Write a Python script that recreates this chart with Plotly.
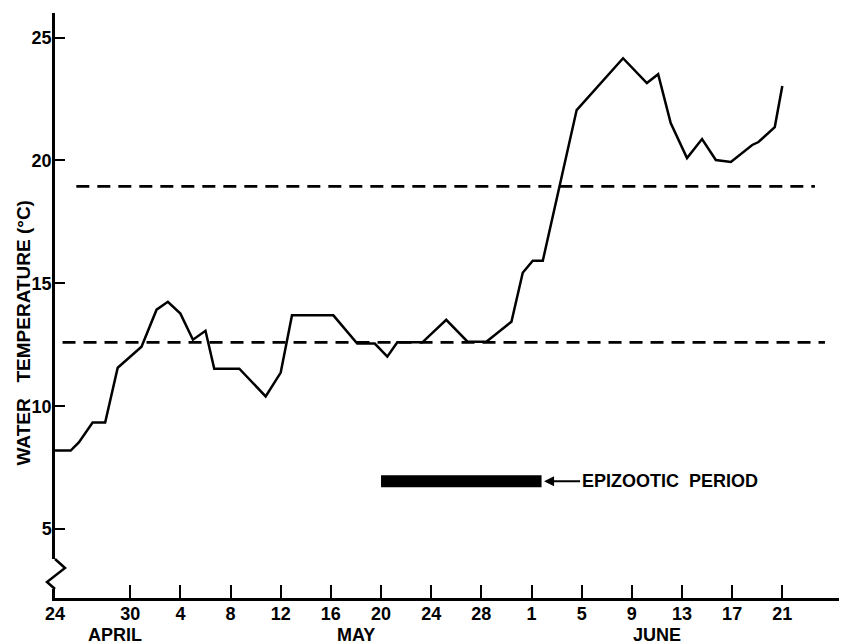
import plotly.graph_objects as go

# Days counted from April 24
day = [0, 1.25, 1.9, 3.0, 4.0, 5.0, 6.9, 8.1, 9.0, 10.0, 11.0, 12.0, 12.7, 14.7,
       16.8, 18.0, 18.9, 22.2, 24.1, 25.5, 26.5, 27.3, 29.3, 31.2, 32.9, 34.4,
       36.4, 37.3, 38.1, 38.9, 41.6, 45.3, 47.2, 48.1, 49.1, 50.4, 51.6, 52.7,
       53.9, 55.6, 56.1, 57.4, 58.0]
water_temp = [8.2, 8.2, 8.53, 9.34, 9.34, 11.57, 12.42, 13.93, 14.25, 13.77, 12.71,
              13.07, 11.53, 11.53, 10.40, 11.37, 13.7, 13.7, 12.55, 12.55, 12.02,
              12.6, 12.6, 13.52, 12.63, 12.63, 13.44, 15.43, 15.92, 15.92, 22.05,
              24.16, 23.15, 23.51, 21.52, 20.10, 20.87, 20.02, 19.94, 20.63, 20.75,
              21.36, 23.03]

upper_line_x = [1.7, 60.6]
upper_line_y = [18.95, 18.95]
lower_line_x = [0.6, 61.4]
lower_line_y = [12.6, 12.6]

epizootic_x = [26.0, 38.8]
epizootic_y = [6.95, 6.95]

tick_days = [0, 6, 10, 14, 18, 22, 26, 30, 34, 38, 42, 46, 50, 54, 58]
tick_labels = ["24", "30", "4", "8", "12", "16", "20", "24", "28", "1", "5", "9", "13", "17", "21"]
month_names = ["APRIL", "MAY", "JUNE"]
month_pos = [4.8, 24.0, 48.0]
y_ticks = [5, 10, 15, 20, 25]

FONT = "Liberation Sans"
Y_MIN, Y_MAX = 2.2, 26.0


def f(size):
    return dict(family=FONT, size=size, color="black", weight="bold")


fig = go.Figure()
fig.add_trace(go.Scatter(x=upper_line_x, y=upper_line_y, mode="lines",
                         line=dict(color="black", width=2.8, dash="13px,8px")))
fig.add_trace(go.Scatter(x=lower_line_x, y=lower_line_y, mode="lines",
                         line=dict(color="black", width=2.8, dash="13px,8px")))
fig.add_trace(go.Scatter(x=day, y=water_temp, mode="lines",
                         line=dict(color="black", width=2.5)))
fig.add_trace(go.Scatter(x=epizootic_x, y=epizootic_y, mode="lines",
                         line=dict(color="black", width=12)))

# arrow + label for epizootic period
fig.add_annotation(x=epizootic_x[1] + 0.2, y=epizootic_y[0], xref="x", yref="y",
                   text="EPIZOOTIC\u00a0 PERIOD", showarrow=True, ax=36, ay=0,
                   xanchor="left", arrowhead=2, arrowsize=1, arrowwidth=2,
                   arrowcolor="black", font=f(18))

# month labels
for name, pos in zip(month_names, month_pos):
    fig.add_annotation(x=pos, y=0, xref="x", yref="paper", text=name,
                       showarrow=False, yanchor="middle", yshift=-37,
                       font=f(18))

# y axis title
fig.add_annotation(x=0, y=13.0, xref="paper", yref="y",
                   text="WATER\u00a0\u00a0\u00a0TEMPERATURE (°C)", showarrow=False,
                   textangle=-90, xanchor="center", yanchor="middle",
                   xshift=-31, font=f(19))

# axis break on y axis
fig.add_shape(type="rect", xref="paper", yref="paper", xsizemode="pixel", ysizemode="pixel",
              xanchor=0, yanchor=0, x0=-5, x1=5, y0=9, y1=39,
              fillcolor="white", line=dict(width=0), layer="above")
fig.add_shape(type="path", xref="paper", yref="paper", xsizemode="pixel", ysizemode="pixel",
              xanchor=0, yanchor=0, path="M0,39 L10,30 L-8,16 L0,9",
              line=dict(color="black", width=2.5), layer="above")

fig.update_layout(
    width=839, height=636,
    margin=dict(l=47, r=2, t=5, b=46),
    plot_bgcolor="white", paper_bgcolor="white",
    showlegend=False,
    font=f(18),
)
fig.update_xaxes(range=[0, 63], tickvals=tick_days, ticktext=tick_labels,
                 ticks="inside", ticklen=13, tickwidth=2, tickcolor="black",
                 showline=True, linecolor="black", linewidth=2.5,
                 showgrid=False, zeroline=False, ticklabelstandoff=-2,
                 tickfont=f(18))
fig.update_yaxes(range=[Y_MIN, Y_MAX], tickvals=y_ticks,
                 ticks="inside", ticklen=10, tickwidth=2, tickcolor="black",
                 showline=True, linecolor="black", linewidth=2.5,
                 showgrid=False, zeroline=False, ticklabelstandoff=-3,
                 tickfont=f(18))

fig.write_html("out.html")
